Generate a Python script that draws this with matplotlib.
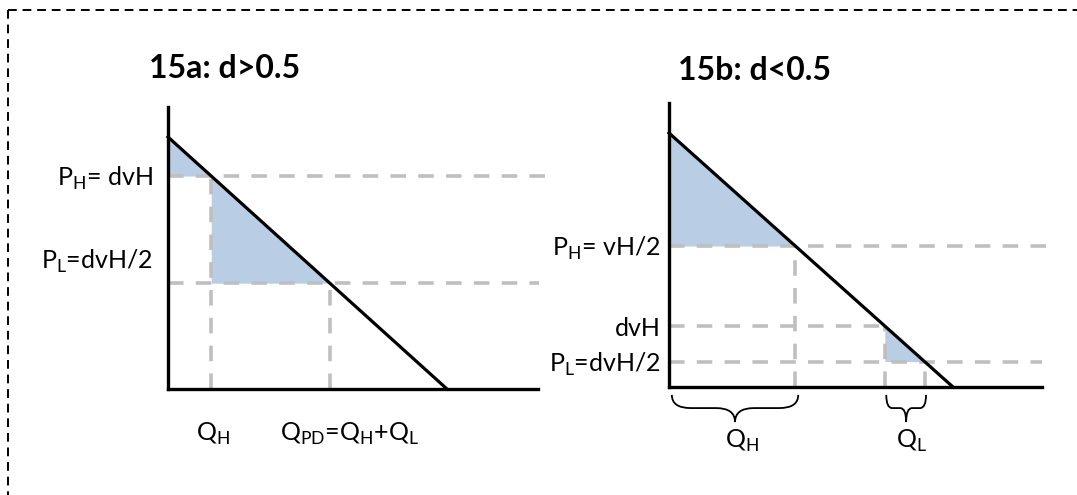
import matplotlib
matplotlib.use('Agg')
import matplotlib.pyplot as plt
from matplotlib.path import Path
from matplotlib.patches import PathPatch
from matplotlib.lines import Line2D

plt.rcParams['font.family'] = ['Lato', 'DejaVu Sans']

# demand is P = 1 - Q (vH = 1) in both panels
a_prices = [0.845, 0.42]          # P_H = dvH, P_L = dvH/2
b_prices = [0.555, 0.24, 0.10]    # P_H = vH/2, dvH, P_L = dvH/2
a_labels = ['P$_\\mathregular{H}$= dvH', 'P$_\\mathregular{L}$=dvH/2']
b_labels = ['P$_\\mathregular{H}$= vH/2', 'dvH', 'P$_\\mathregular{L}$=dvH/2']
a_qlabels = ['Q$_\\mathregular{H}$', 'Q$_\\mathregular{PD}$=Q$_\\mathregular{H}$+Q$_\\mathregular{L}$']
b_qlabels = ['Q$_\\mathregular{H}$', 'Q$_\\mathregular{L}$']
titles = ['15a: d>0.5', '15b: d<0.5']

W, H = 1077, 495
fig = plt.figure(figsize=(W / 100, H / 100), dpi=100)

FILL = '#b9cde5'
GREY = '#bfbfbf'
dash = (0, (4.3, 3.4))


def demand(q):
    return 1 - q


def make_ax(ox, oy, sx, sy, xmax, ymax):
    ax = fig.add_axes([ox / W, 1 - oy / H, xmax * sx / W, ymax * sy / H])
    ax.set_xlim(0, xmax)
    ax.set_ylim(0, ymax)
    ax.patch.set_visible(False)
    for s in ['top', 'right']:
        ax.spines[s].set_visible(False)
    for s in ['left', 'bottom']:
        ax.spines[s].set_linewidth(2.4)
    ax.set_xticks([])
    ax.set_yticks([])
    return ax


def hline(ax, y, x1):
    ax.plot([0, x1], [y, y], color=GREY, lw=2.6, ls=dash, clip_on=False, zorder=2)


def vline(ax, x, y1):
    ax.plot([x, x], [0, y1], color=GREY, lw=2.6, ls=dash, clip_on=False, zorder=2)


def brace(ax, x1, x2, top, mid, tip):
    r = 0.15 * (x2 - x1)
    xm = (x1 + x2) / 2
    verts = [(x1, top), (x1, mid), (x1 + r, mid), (xm - r, mid), (xm, mid), (xm, tip),
             (xm, tip), (xm, mid), (xm + r, mid), (x2 - r, mid), (x2, mid), (x2, top)]
    codes = [Path.MOVETO, Path.CURVE3, Path.CURVE3, Path.LINETO, Path.CURVE3, Path.CURVE3,
             Path.MOVETO, Path.CURVE3, Path.CURVE3, Path.LINETO, Path.CURVE3, Path.CURVE3]
    ax.add_patch(PathPatch(Path(verts, codes), fill=False, lw=1.3, color='black', clip_on=False))


FS = 18

# ---- panel a
axa = make_ax(168, 389, 279, 252, 1.326, 1.119)
ph, pl = a_prices
qh, qpd = 1 - ph, 1 - pl
axa.fill_between([0, qh], [demand(0), demand(qh)], ph, color=FILL, lw=0, zorder=1)
axa.fill_between([qh, qpd], [demand(qh), demand(qpd)], pl, color=FILL, lw=0, zorder=1)
hline(axa, ph, 1.358)
hline(axa, pl, 1.33)
vline(axa, qh, ph)
vline(axa, qpd, pl)
axa.plot([0, 1], [demand(0), demand(1)], color='black', lw=2.3, zorder=3, clip_on=False)
axa.annotate(a_labels[0], (0, ph), xytext=(-11, -2), textcoords='offset points',
             ha='right', va='center', fontsize=FS)
axa.annotate(a_labels[1], (0, pl), xytext=(-11, 16), textcoords='offset points',
             ha='right', va='center', fontsize=FS)
axa.annotate(a_qlabels[0], (qh, 0), xytext=(1, -32), textcoords='offset points',
             ha='center', va='center', fontsize=FS)
axa.annotate(a_qlabels[1], (qpd, 0), xytext=(14, -32), textcoords='offset points',
             ha='center', va='center', fontsize=FS)

# ---- panel b
axb = make_ax(669, 387, 284, 254, 1.313, 1.118)
ph, dvh, pl = b_prices
qh, qd, ql = 1 - ph, 1 - dvh, 1 - pl
axb.fill_between([0, qh], [demand(0), demand(qh)], ph, color=FILL, lw=0, zorder=1)
axb.fill_between([qd, ql], [demand(qd), demand(ql)], pl, color=FILL, lw=0, zorder=1)
hline(axb, ph, 1.349)
hline(axb, dvh, qd)
hline(axb, pl, 1.313)
vline(axb, qh, ph)
vline(axb, qd, dvh)
vline(axb, ql, pl)
axb.plot([0, 1], [demand(0), demand(1)], color='black', lw=2.3, zorder=3, clip_on=False)
for p, lab in zip(b_prices, b_labels):
    axb.annotate(lab, (0, p), xytext=(-6, -2), textcoords='offset points',
                 ha='right', va='center', fontsize=FS)
brace(axb, 0.01, qh + 0.01, -0.031, -0.083, -0.138)
brace(axb, qd + 0.005, ql + 0.005, -0.031, -0.083, -0.138)
axb.annotate(b_qlabels[0], ((0.01 + qh + 0.01) / 2, 0), xytext=(5, -39), textcoords='offset points',
             ha='center', va='center', fontsize=FS)
axb.annotate(b_qlabels[1], ((qd + ql) / 2 + 0.005, 0), xytext=(4, -39), textcoords='offset points',
             ha='center', va='center', fontsize=FS)

# titles
fig.text(225 / W, 1 - 68 / H, titles[0], ha='center', va='center', fontsize=23, fontweight='bold')
fig.text(755 / W, 1 - 70 / H, titles[1], ha='center', va='center', fontsize=23, fontweight='bold')

# dashed frame round the whole figure
bd = (0, (4.5, 3))
fig.add_artist(Line2D([8 / W, 1], [1 - 10 / H, 1 - 10 / H], color='black', lw=1.4, ls=bd))
fig.add_artist(Line2D([8 / W, 8 / W], [1 - 10 / H, 0], color='black', lw=1.4, ls=bd))

fig.savefig('out.png', dpi=100)
